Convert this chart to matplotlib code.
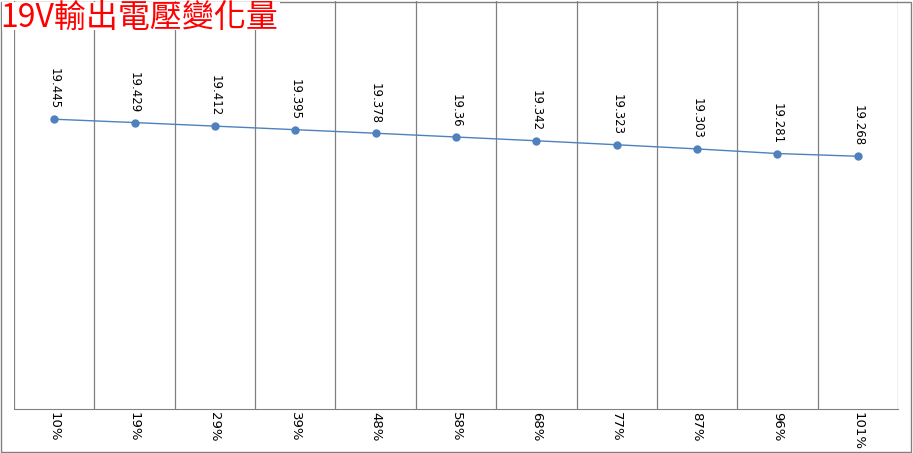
import matplotlib.pyplot as plt
from matplotlib.patches import Rectangle

# データ
categories = ['10%', '19%', '29%', '39%', '48%', '58%', '68%', '77%', '87%', '96%', '101%']
voltages = [19.445, 19.429, 19.412, 19.395, 19.378, 19.36, 19.342, 19.323, 19.303, 19.281, 19.268]
value_labels = ['19.445', '19.429', '19.412', '19.395', '19.378', '19.36', '19.342', '19.323', '19.303', '19.281', '19.268']
title = '19V輸出電壓變化量'

fig = plt.figure(figsize=(9.13, 4.53), dpi=100)
W, H = 913, 453
ax = fig.add_axes([14 / W, 1 - 409 / H, (898 - 14) / W, (409 - 1) / H])

x = list(range(len(categories)))
ax.plot(x, voltages, color='#4f81bd', lw=1, marker='o', ms=5, zorder=3)

# データラベル
for xi, v, lab in zip(x, voltages, value_labels):
    ax.annotate(lab, (xi, v), xytext=(0, 7), textcoords='offset points',
                rotation=270, ha='center', va='bottom', fontsize=8.5, color='black')

# 縦の区切り線
for b in range(len(categories) + 1):
    ax.axvline(b - 0.5, color='#808080', lw=0.9, zorder=1)

ax.set_xlim(-0.5, len(categories) - 0.5)
ax.set_ylim(18.06, 20.01)
ax.set_yticks([])
ax.set_xticks(x)
ax.set_xticklabels(categories, rotation=270, fontsize=9.5)
ax.tick_params(axis='x', length=0, pad=2)
for s in ['top', 'left', 'right']:
    ax.spines[s].set_visible(False)
ax.spines['bottom'].set_color('#808080')

# 外枠
fig.patches.append(Rectangle((1 / W, 1 / H), (W - 3) / W, (H - 3) / H,
                             transform=fig.transFigure, fill=False,
                             edgecolor='#808080', lw=1))
# タイトルの背景
fig.patches.append(Rectangle((2 / W, 1 - 30 / H), 278 / W, 28 / H,
                             transform=fig.transFigure, facecolor='white',
                             edgecolor='none', zorder=2))

fig.text(0 / W, 1 - 2 / H, title, color='red', fontsize=23, ha='left', va='top',
         family=['Noto Sans CJK TC', 'DejaVu Sans'], zorder=3)

fig.savefig('out.png', dpi=100)
